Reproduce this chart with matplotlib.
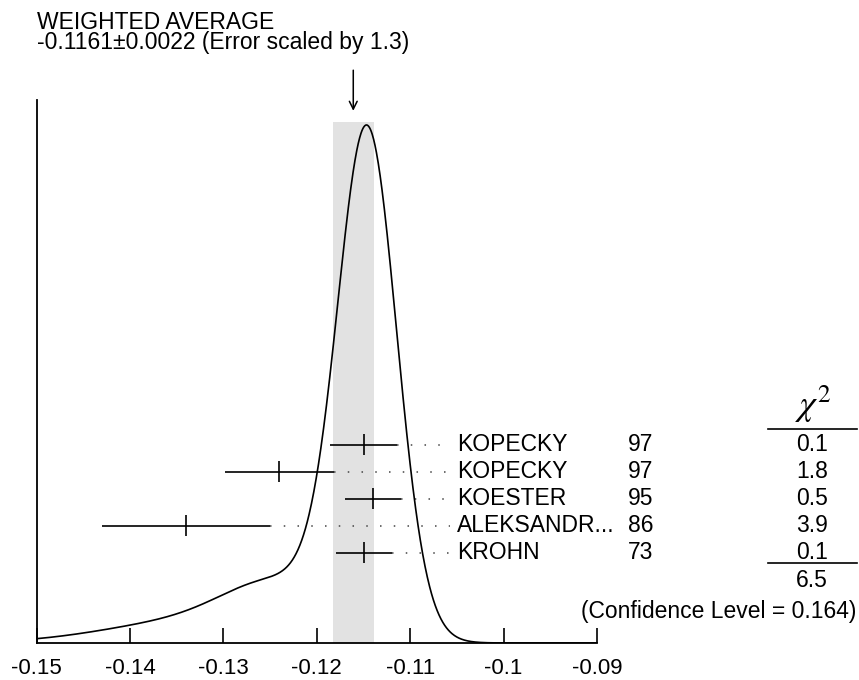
import matplotlib
matplotlib.use("Agg")
import matplotlib.pyplot as plt
import matplotlib.transforms as mtransforms
import numpy as np

plt.rcParams["font.family"] = ["Liberation Sans", "DejaVu Sans"]

# measurements (neutron mean-square charge radius, fm^2)
authors = ["KOPECKY", "KOPECKY", "KOESTER", "ALEKSANDR...", "KROHN"]
years = ["97", "97", "95", "86", "73"]
values = [-0.115, -0.124, -0.114, -0.134, -0.115]
errors = [0.0036, 0.0058, 0.0030, 0.0090, 0.0030]
chi2 = ["0.1", "1.8", "0.5", "3.9", "0.1"]
chi2_total = "6.5"
conf_level = "0.164"

avg = -0.1161
avg_err = 0.0022
scale_factor = 1.3

xticks = [-0.15, -0.14, -0.13, -0.12, -0.11, -0.10, -0.09]
xtick_labels = ["-0.15", "-0.14", "-0.13", "-0.12", "-0.11", "-0.1", "-0.09"]

FS = 16.5
W, H = 859, 680
fig = plt.figure(figsize=(W / 100, H / 100), dpi=100)
ax = fig.add_axes([36.7 / W, 37 / H, 560.3 / W, 543 / H])
ax.set_xlim(-0.15, -0.09)
ax.set_ylim(0, 1)
for s in ["top", "right"]:
    ax.spines[s].set_visible(False)
ax.spines["left"].set_linewidth(1.3)
ax.spines["bottom"].set_linewidth(1.3)
ax.set_yticks([])
ax.set_xticks(xticks)
ax.set_xticklabels(xtick_labels)
ax.tick_params(axis="x", direction="in", length=11, width=1.2, pad=11, labelsize=16)

# ideogram: sum of gaussians, area ~ 1/sigma
v = np.array(values)
e = np.array(errors)
xs = np.linspace(-0.15, -0.09, 1200)
curve = np.zeros_like(xs)
for vi, ei in zip(v, e):
    curve += np.exp(-0.5 * ((xs - vi) / ei) ** 2) / ei ** 2
curve = curve / curve.max() * 0.954

ax.axvspan(avg - avg_err, avg + avg_err, ymin=0, ymax=0.96, color="#e2e2e2", lw=0, zorder=1)
ax.plot(xs, curve, color="black", lw=1.2, zorder=3)

ax.annotate("", xy=(avg, 0.975), xytext=(avg, 1.06), annotation_clip=False,
            arrowprops=dict(arrowstyle="->", lw=1.1, color="black",
                            mutation_scale=14))

# rows
trans = mtransforms.blended_transform_factory(fig.transFigure, ax.transData)
top, step = 0.365, 0.0497
dot_end = -0.15 + (450 - 36.7) / 9338
for i in range(len(values)):
    y = top - i * step
    ax.hlines(y, values[i] - errors[i], values[i] + errors[i], color="black", lw=1.2, zorder=4)
    ax.vlines(values[i], y - 0.019, y + 0.019, color="black", lw=1.2, zorder=4)
    ax.plot([values[i] + errors[i], dot_end], [y, y], color="#444444", lw=1.1,
            linestyle=(0, (1, 8)), zorder=2, clip_on=False)
    ax.text(457 / W, y, authors[i], transform=trans, ha="left", va="center", fontsize=FS)
    ax.text(628 / W, y, years[i], transform=trans, ha="left", va="center", fontsize=FS)
    ax.text(812 / W, y, chi2[i], transform=trans, ha="center", va="center", fontsize=FS)

ax.text(813 / W, 0.44, r"$\chi^2$", transform=trans, ha="center", va="center",
        fontsize=26, math_fontfamily="stix")
ax.plot([768 / W, 857 / W], [0.394, 0.394], transform=trans, color="black", lw=1.2, clip_on=False)
ax.plot([768 / W, 857 / W], [0.147, 0.147], transform=trans, color="black", lw=1.2, clip_on=False)
ax.text(812 / W, 0.116, chi2_total, transform=trans, ha="center", va="center", fontsize=FS)
ax.text(856 / W, 0.058, f"(Confidence Level = {conf_level})", transform=trans,
        ha="right", va="center", fontsize=FS)

title = ("WEIGHTED AVERAGE\n"
         f"{avg:.4f}\u00b1{avg_err:.4f} (Error scaled by {scale_factor})")
fig.text(37 / W, (H - 11) / H, title, ha="left", va="top", fontsize=FS, linespacing=0.85)

fig.savefig("out.png", dpi=100)
